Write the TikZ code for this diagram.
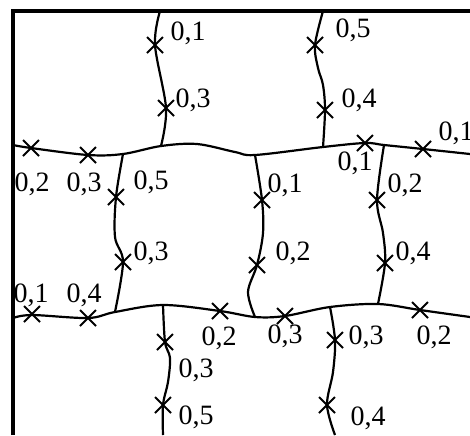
\documentclass[tikz,border=0pt]{standalone}
\usepackage{fontspec}
\setmainfont{Liberation Serif}
\usetikzlibrary{shapes.misc}

\begin{document}
\begin{tikzpicture}[x=0.5pt,y=-0.5pt,
    bound/.style={line width=1.1pt,smooth,tension=0.55},
    xcross/.style={draw,cross out,line width=1pt,minimum size=7pt,inner sep=0pt},
    val/.style={inner sep=0pt,font=\fontsize{14}{16}\selectfont}]
  \useasboundingbox (0,0) rectangle (470,435);
  \draw[line width=1.6pt] (13,435) -- (13,11) -- (470,11);

  % junctions
  \coordinate (j1) at (123,154);
  \coordinate (j2) at (161,146);
  \coordinate (j3) at (255,155);
  \coordinate (j4) at (323,147);
  \coordinate (j5) at (384,145);
  \coordinate (j6) at (115,312);
  \coordinate (j7) at (163,305);
  \coordinate (j8) at (255,317);
  \coordinate (j9) at (330,307);
  \coordinate (j10) at (378,304);

  % horizontal lines
  \draw[bound] plot coordinates {(13,145) (31,148) (88,155) (j1) (j2) (197,144) (235,152) (j3)
    (j4) (365,143) (j5) (423,149) (470,154)};
  \draw[bound] plot coordinates {(13,318) (32,315) (88,318) (j6) (j7) (220,311) (j8)
    (285,316) (j9) (j10) (420,310) (470,317)};

  % vertical lines
  \draw[bound] plot coordinates {(160,11) (155,45) (166,108) (j2)};
  \draw[bound] plot coordinates {(323,11) (315,45) (318,68) (323,85) (325,110) (j4)};
  \draw[bound] plot coordinates {(j1) (116,197) (115,237) (123,262) (j6)};
  \draw[bound] plot coordinates {(j3) (262,200) (263,233) (257,265) (248,292) (j8)};
  \draw[bound] plot coordinates {(j5) (377,200) (383,233) (385,263) (j10)};
  \draw[bound] plot coordinates {(j7) (165,342) (170,358) (168,382) (163,405) (163,435)};
  \draw[bound] plot coordinates {(j9) (335,340) (333,372) (327,405) (335,435)};

  \foreach \p [count=\i] in {(155,45),(166,108),(315,45),(325,110),
      (31,148),(88,155),(365,143),(423,149),
      (116,197),(123,262),(262,200),(257,265),(377,200),(385,263),
      (32,314),(88,318),(220,311),(285,316),(420,310),
      (165,342),(163,405),(335,340),(327,405)}{
    \node[xcross] (x\i) at \p {};
  }

  \foreach \x/\y/\t [count=\i] in {188/33/{0,1},193/100/{0,3},353/30/{0,5},359/100/{0,4},
      32/184/{0,2},84/184/{0,3},151/182/{0,5},355/163/{0,1},456/133/{0,1},
      285/185/{0,1},293/253/{0,2},405/185/{0,2},413/253/{0,4},151/253/{0,3},
      31/295/{0,1},84/295/{0,4},219/338/{0,2},285/336/{0,3},366/337/{0,3},434/337/{0,2},
      196/370/{0,3},196/417/{0,5},368/418/{0,4}}{
    \node[val] (v\i) at (\x,\y) {\t};
  }
\end{tikzpicture}
\end{document}
